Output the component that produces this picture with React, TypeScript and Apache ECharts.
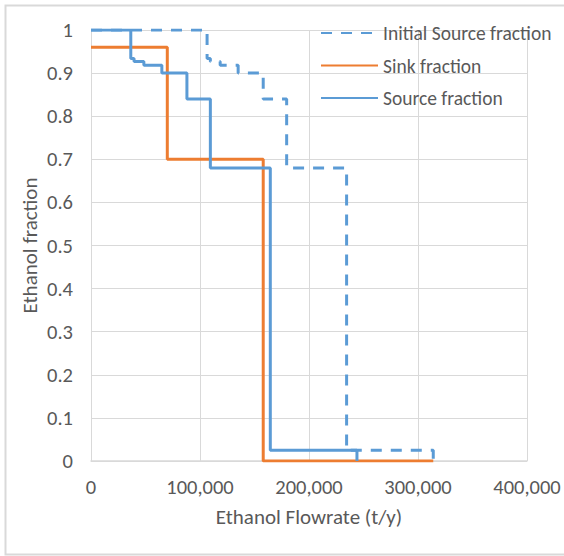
import React, { useEffect, useRef } from "react";
import * as echarts from "echarts";

// Step levels (Ethanol fraction) and flowrate boundaries (t/y)
const sourceLevels = [1.0, 0.934, 0.927, 0.918, 0.9, 0.84, 0.68, 0.025];
const sourceBounds = [0, 36500, 39500, 48500, 65000, 88000, 109500, 164500, 244000];
const initialSourceBounds = [0, 106500, 109500, 118500, 135000, 158000, 179500, 234500, 314000];
const sinkLevels = [0.96, 0.7, 0];
const sinkBounds = [0, 70000, 158000, 314000];

const seriesNames = ["Initial Source fraction", "Sink fraction", "Source fraction"];
const xTicks = [0, 100000, 200000, 300000, 400000];

const BLUE = "#5B9BD5";
const ORANGE = "#ED7D31";
const TEXT = "#595959";
const GRID = "#D9D9D9";
const FONT = "Carlito, Lato, 'Open Sans', sans-serif";

// step points: (bound_i, level_i) for each level, then the closing point
function stepPoints(bounds: number[], levels: number[], endLevel: number) {
  const pts: number[][] = [];
  for (let i = 0; i < levels.length; i++) pts.push([bounds[i], levels[i]]);
  pts.push([bounds[levels.length], endLevel]);
  return pts;
}

export default function App() {
  const ref = useRef<HTMLDivElement>(null);
  useEffect(() => {
    document.body.style.margin = "0";
    if (!ref.current) return;
    const chart = echarts.init(ref.current, null, { renderer: "svg" });
    const sourceData = stepPoints(sourceBounds, sourceLevels, 0);
    const initialData = stepPoints(initialSourceBounds, sourceLevels, 0);
    const sinkData = stepPoints(sinkBounds, sinkLevels, sinkLevels[sinkLevels.length - 1]);
    chart.setOption({
      animation: false,
      backgroundColor: "#ffffff",
      textStyle: { fontFamily: FONT },
      graphic: [
        {
          type: "rect",
          shape: { x: 5.5, y: 5.5, width: 620, height: 549 },
          style: { fill: "none", stroke: GRID, lineWidth: 2 },
          silent: true,
          z: -1,
        },
      ],
      grid: { left: 91, right: 37, top: 30, bottom: 95, containLabel: false },
      legend: {
        orient: "vertical",
        left: 315,
        top: 18,
        padding: 5,
        itemWidth: 57,
        itemHeight: 20,
        itemGap: 12.5,
        data: seriesNames,
        itemStyle: { opacity: 0, borderWidth: 0 },
        textStyle: { color: TEXT, fontSize: 19.5, lineHeight: 20, fontFamily: FONT },
      },
      xAxis: {
        type: "value",
        min: 0,
        max: 400000,
        interval: 100000,
        name: "Ethanol Flowrate (t/y)",
        nameLocation: "middle",
        nameGap: 45,
        nameMoveOverlap: false,
        nameTextStyle: { color: TEXT, fontSize: 21, fontFamily: FONT },
        axisLine: { show: true, lineStyle: { color: GRID, width: 1.5 } },
        axisTick: { show: false },
        axisLabel: {
          color: TEXT,
          fontSize: 20.5,
          margin: 15,
          fontFamily: FONT,
          formatter: (v: number) => (xTicks.includes(v) ? v.toLocaleString("en-US") : ""),
        },
        splitLine: { show: true, lineStyle: { color: GRID, width: 1 } },
      },
      yAxis: {
        type: "value",
        min: 0,
        max: 1,
        interval: 0.1,
        name: "Ethanol fraction",
        nameLocation: "middle",
        nameGap: 51,
        nameMoveOverlap: false,
        nameTextStyle: { color: TEXT, fontSize: 21, fontFamily: FONT },
        axisLine: { show: false },
        axisTick: { show: false },
        axisLabel: {
          color: TEXT,
          fontSize: 20.5,
          margin: 18,
          fontFamily: FONT,
          formatter: (v: number) => String(Math.round(v * 10) / 10),
        },
        splitLine: { show: true, lineStyle: { color: GRID, width: 1 } },
      },
      series: [
        {
          name: seriesNames[0],
          type: "line",
          step: "end",
          data: initialData,
          showSymbol: false,
          symbol: "none",
          lineStyle: { color: BLUE, width: 3, type: [11, 9] },
          itemStyle: { color: BLUE },
        },
        {
          name: seriesNames[1],
          type: "line",
          step: "end",
          data: sinkData,
          showSymbol: false,
          symbol: "none",
          lineStyle: { color: ORANGE, width: 3 },
          itemStyle: { color: ORANGE },
        },
        {
          name: seriesNames[2],
          type: "line",
          step: "end",
          data: sourceData,
          showSymbol: false,
          symbol: "none",
          lineStyle: { color: BLUE, width: 3 },
          itemStyle: { color: BLUE },
        },
      ],
    });
    return () => chart.dispose();
  }, []);
  return <div ref={ref} style={{ width: 564, height: 556 }} />;
}
